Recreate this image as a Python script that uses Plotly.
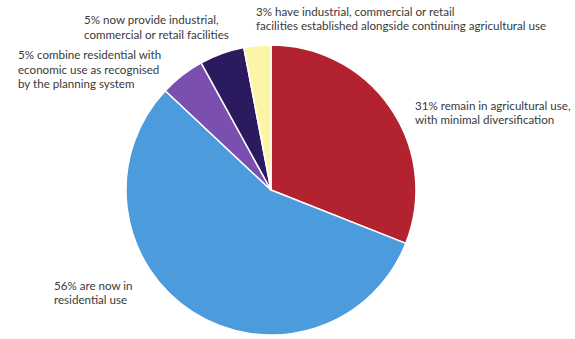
import plotly.graph_objects as go

W, H = 575, 339

categories = [
    "Remain in agricultural use",
    "Residential use",
    "Combine residential with economic use",
    "Industrial, commercial or retail",
    "Industrial/commercial alongside agriculture",
]
values = [31, 56, 5, 5, 3]
colors = ["#B3232F", "#4B9BDD", "#7A4FAF", "#2B1B5E", "#FDF5A6"]

label_lines = [
    ["31% remain in agricultural use,", "with minimal diversification"],
    ["56% are now in", "residential use"],
    ["5% combine residential with", "economic use as recognised", "by the planning system"],
    ["5% now provide industrial,", "commercial or retail facilities"],
    ["3% have industrial, commercial or retail",
     "facilities established alongside continuing agricultural use"],
]
# label anchor (left, vertical centre of first line) in pixels
label_pos = [(413, 105), (52, 285), (16, 55), (82, 20), (254, 11)]

cx, cy, r = 271, 190, 145

fig = go.Figure(go.Pie(
    labels=categories,
    values=values,
    sort=False,
    direction="clockwise",
    rotation=0,
    marker=dict(colors=colors, line=dict(color="white", width=1.5)),
    textinfo="none",
    hoverinfo="label+percent",
    showlegend=False,
    domain=dict(x=[(cx - r) / W, (cx + r) / W], y=[(H - cy - r) / H, (H - cy + r) / H]),
))

line_h = 14.5
anns = []
for lines, (px, py) in zip(label_lines, label_pos):
    for i, t in enumerate(lines):
        anns.append(dict(
            x=px / W, y=1 - (py + i * line_h) / H, xref="paper", yref="paper",
            xanchor="left", yanchor="middle", text=t, showarrow=False,
            font=dict(family="Lato", size=11.6, color="#3a3a3a"),
        ))

fig.update_layout(
    width=W, height=H,
    margin=dict(l=0, r=0, t=0, b=0),
    paper_bgcolor="white", plot_bgcolor="white",
    annotations=anns,
)
fig.write_html("out.html")
